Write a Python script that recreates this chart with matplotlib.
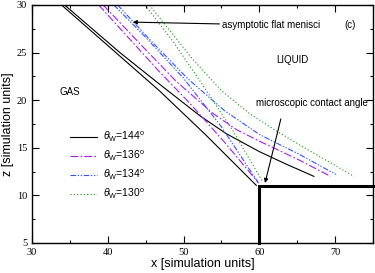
import matplotlib
matplotlib.use("Agg")
import matplotlib.pyplot as plt
from matplotlib.lines import Line2D

plt.rcParams['mathtext.fontset'] = 'custom'
plt.rcParams['mathtext.rm'] = 'Liberation Sans'
plt.rcParams['mathtext.it'] = 'Liberation Sans:italic'

# ---- data ----
# theta_W = 144 : line to corner / asymptotic line
x144_corner = [33.9, 46.8, 53.0, 59.6]
z144_corner = [30.0, 21.0, 16.3, 11.05]
x144_flat = [34.3, 41.6, 46.8, 52.1, 55.6, 60.0, 63.5, 67.2]
z144_flat = [30.0, 25.0, 21.7, 18.4, 16.5, 14.6, 13.3, 12.0]

# theta_W = 136
x136_corner = [38.8, 46.8, 50.8, 55.5, 59.9]
z136_corner = [30.0, 23.0, 19.7, 15.5, 11.3]
x136_flat = [39.4, 44.4, 49.0, 53.9, 57.0, 60.0, 65.3, 69.4]
z136_flat = [30.0, 25.8, 22.0, 18.6, 16.9, 15.7, 13.7, 12.0]

# theta_W = 134
x134_corner = [40.8, 45.0, 50.0, 55.0, 59.8]
z134_corner = [30.0, 26.6, 22.3, 17.2, 11.4]
x134_flat = [41.3, 45.5, 50.5, 55.4, 60.0, 65.3, 70.1]
z134_flat = [30.0, 26.4, 22.3, 18.9, 16.4, 14.3, 12.2]

# theta_W = 130
x130_corner = [44.9, 48.5, 52.1, 56.5, 60.4]
z130_corner = [30.0, 26.3, 22.1, 16.8, 11.5]
x130_flat = [45.5, 51.2, 55.0, 58.7, 62.0, 65.3, 72.5]
z130_flat = [30.0, 24.3, 21.0, 18.6, 16.9, 15.3, 12.0]

# solid wall (step)
wall_x = [60, 60, 75]
wall_z = [5, 11, 11]

labels = ['144', '136', '134', '130']

fig = plt.figure(figsize=(3.75, 2.73), dpi=100)
ax = fig.add_axes([0.0853, 0.1099, 0.9094, 0.8718])

c_black = 'black'
c_purple = '#a020f0'
c_blue = '#3355ff'
c_green = '#119911'
lw = 0.8
st_purple = (0, (7, 2, 1.5, 2))
st_blue = (0, (5, 1.5, 1.2, 1.5, 1.2, 1.5))
st_green = (0, (1, 2))

ax.plot(x144_corner, z144_corner, color=c_black, lw=lw, ls='-')
ax.plot(x144_flat, z144_flat, color=c_black, lw=lw, ls='-')
ax.plot(x136_corner, z136_corner, color=c_purple, lw=lw, ls=st_purple)
ax.plot(x136_flat, z136_flat, color=c_purple, lw=lw, ls=st_purple)
ax.plot(x134_corner, z134_corner, color=c_blue, lw=lw, ls=st_blue)
ax.plot(x134_flat, z134_flat, color=c_blue, lw=lw, ls=st_blue)
ax.plot(x130_corner, z130_corner, color=c_green, lw=lw, ls=st_green)
ax.plot(x130_flat, z130_flat, color=c_green, lw=lw, ls=st_green)

ax.plot(wall_x, wall_z, color='black', lw=2.2, solid_joinstyle='miter', clip_on=False)

ax.set_xlim(30, 75)
ax.set_ylim(5, 30)
ax.set_xticks([30, 40, 50, 60, 70])
ax.set_xticks([35, 45, 55, 65, 75], minor=True)
ax.set_yticks([5, 10, 15, 20, 25, 30])
ax.set_yticks([7.5, 12.5, 17.5, 22.5, 27.5], minor=True)
ax.tick_params(which='both', direction='in', top=True, right=True,
               labelfontfamily='Liberation Serif', labelsize=7.5, width=0.8)
ax.tick_params(which='major', length=5)
ax.tick_params(which='minor', length=2.5)
for s in ax.spines.values():
    s.set_linewidth(1.0)

ax.set_xlabel('x [simulation units]', fontfamily='Liberation Sans', fontsize=9, labelpad=1)
ax.set_ylabel('z [simulation units]', fontfamily='Liberation Sans', fontsize=9, labelpad=2)

tf = dict(fontfamily='Liberation Sans', fontsize=7)
ax.text(35.0, 20.9, 'GAS', ha='center', va='center', **tf)
ax.text(64.3, 24.2, 'LIQUID', ha='center', va='center', **tf)
ax.text(72.0, 27.9, '(c)', ha='center', va='center', **tf)
ax.annotate('asymptotic flat menisci', xy=(43.3, 28.2), xytext=(55.1, 27.9),
            ha='left', va='center',
            arrowprops=dict(arrowstyle='-|>', color='black', lw=0.8,
                            mutation_scale=6, shrinkA=0, shrinkB=0), **tf)
ax.annotate('microscopic contact angle', xy=(60.75, 11.3), xytext=(59.5, 19.7),
            ha='left', va='center',
            arrowprops=dict(arrowstyle='-|>', color='black', lw=0.8,
                            mutation_scale=6, shrinkA=6, shrinkB=0,
                            relpos=(0.25, 0.0)), **tf)

handles = [
    Line2D([], [], color=c_black, lw=lw, ls='-'),
    Line2D([], [], color=c_purple, lw=lw, ls=st_purple),
    Line2D([], [], color=c_blue, lw=lw, ls=st_blue),
    Line2D([], [], color=c_green, lw=lw, ls=st_green),
]
leg_labels = [r'$\theta_{\rm W}$=' + v + r'$^{\rm o}$' for v in labels]
leg = ax.legend(handles, leg_labels, loc='upper left', bbox_to_anchor=(0.09, 0.505),
                frameon=False, fontsize=7.5, handlelength=2.6, handletextpad=0.55,
                labelspacing=0.45, borderpad=0.2)
for t in leg.get_texts():
    t.set_fontfamily('Liberation Sans')

fig.savefig('out.png', dpi=100)
